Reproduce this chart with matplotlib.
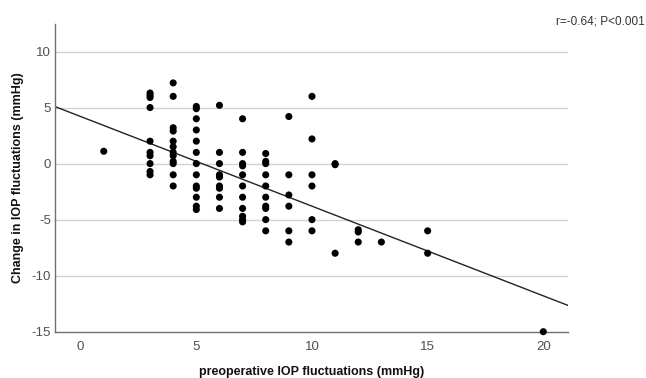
import matplotlib
matplotlib.use("Agg")
import matplotlib.pyplot as plt
import numpy as np

plt.rcParams['font.family'] = ['Liberation Sans', 'DejaVu Sans']
plt.rcParams['axes.unicode_minus'] = False

# preoperative IOP fluctuation (x) and the change values seen at each x
x_levels = [1, 3, 4, 5, 6, 7, 8, 9, 10, 11, 12, 13, 15, 20]
change_at_x = [
    [1.1],
    [6.3, 6.1, 5.9, 5.0, 2.0, 1.0, 0.7, 0.0, -0.7, -1.0],
    [7.2, 6.0, 3.2, 2.9, 2.0, 1.5, 1.0, 0.7, 0.2, 0.0, -1.0, -2.0],
    [5.1, 4.9, 4.0, 3.0, 2.0, 1.0, 0.0, -1.0, -2.0, -2.2, -3.0, -3.8, -4.1],
    [5.2, 1.0, 0.0, -1.0, -1.2, -2.0, -2.2, -3.0, -4.0],
    [4.0, 1.0, 0.0, -0.2, -1.0, -2.0, -3.0, -4.0, -4.7, -5.0, -5.2],
    [0.9, 0.2, 0.0, -1.0, -2.0, -3.0, -3.8, -4.0, -5.0, -6.0],
    [4.2, -1.0, -2.8, -3.8, -6.0, -7.0],
    [6.0, 2.2, -1.0, -2.0, -5.0, -6.0],
    [0.0, -0.1, -8.0],
    [-5.9, -6.1, -7.0],
    [-7.0],
    [-6.0, -8.0],
    [-15.0],
]

# fitted line
fit_intercept = 4.2
fit_slope = -0.80

y_ticks = [-15, -10, -5, 0, 5, 10]
x_ticks = [0, 5, 10, 15, 20]
annotation = "r=-0.64; P<0.001"

xs = np.concatenate([[xv] * len(ys) for xv, ys in zip(x_levels, change_at_x)])
ys = np.concatenate(change_at_x)

fig = plt.figure(figsize=(6.46, 3.78), dpi=100)
ax = fig.add_axes([0.0851, 0.1225, 0.7946, 0.8153])

xlim = (-1.11, 21.08)
ax.set_xlim(*xlim)
ax.set_ylim(-15, 12.5)

for yt in y_ticks[1:]:
    ax.axhline(yt, color='#d3d3d3', lw=1.0, zorder=1)

ax.scatter(xs, ys, s=26, color='black', edgecolors='none', zorder=3, clip_on=False)

line_x = np.array(xlim)
ax.plot(line_x, fit_intercept + fit_slope * line_x, color='#222222', lw=1.0, zorder=2)

for side in ['top', 'right']:
    ax.spines[side].set_visible(False)
for side in ['left', 'bottom']:
    ax.spines[side].set_color('#707070')
    ax.spines[side].set_linewidth(1.0)

ax.set_yticks(y_ticks)
ax.set_xticks(x_ticks)
ax.tick_params(axis='both', length=0, labelsize=9.5, labelcolor='#505050')
ax.tick_params(axis='x', pad=7)
ax.tick_params(axis='y', pad=3)

ax.set_xlabel("preoperative IOP fluctuations (mmHg)", fontsize=9,
              fontweight='bold', color='#111111', labelpad=9)
ax.set_ylabel("Change in IOP fluctuations (mmHg)", fontsize=9,
              fontweight='bold', color='#111111', labelpad=5)

fig.text(0.998, 0.942, annotation, ha='right', va='center', fontsize=8.5, color='#333333')

fig.savefig("out.png", dpi=100)
